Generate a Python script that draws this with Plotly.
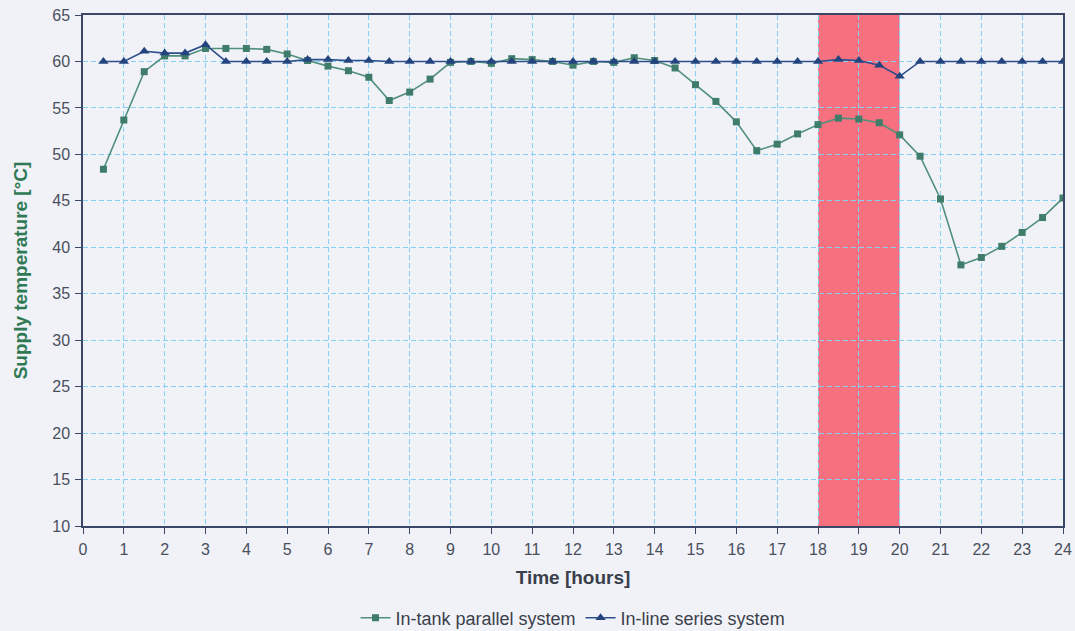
import plotly.graph_objects as go

hours = [0.5, 1, 1.5, 2, 2.5, 3, 3.5, 4, 4.5, 5, 5.5, 6, 6.5, 7, 7.5, 8,
         8.5, 9, 9.5, 10, 10.5, 11, 11.5, 12, 12.5, 13, 13.5, 14, 14.5, 15, 15.5, 16,
         16.5, 17, 17.5, 18, 18.5, 19, 19.5, 20, 20.5, 21, 21.5, 22, 22.5, 23, 23.5, 24]

in_tank_parallel = [48.4, 53.7, 58.9, 60.6, 60.6, 61.4, 61.4, 61.4, 61.3, 60.8, 60.1, 59.5,
                    59.0, 58.3, 55.8, 56.7, 58.1, 59.9, 60.0, 59.8, 60.3, 60.2, 60.0, 59.6,
                    60.0, 59.9, 60.4, 60.1, 59.3, 57.5, 55.7, 53.5, 50.4, 51.1, 52.2, 53.2,
                    53.9, 53.8, 53.4, 52.1, 49.8, 45.2, 38.1, 38.9, 40.1, 41.6, 43.2, 45.3]

in_line_series = [60.0, 60.0, 61.1, 60.9, 60.9, 61.8, 60.0, 60.0, 60.0, 60.0, 60.2, 60.2,
                  60.1, 60.1, 60.0, 60.0, 60.0, 60.0, 60.0, 60.0, 60.0, 60.0, 60.0, 60.0,
                  60.0, 60.0, 60.0, 60.0, 60.0, 60.0, 60.0, 60.0, 60.0, 60.0, 60.0, 60.0,
                  60.2, 60.1, 59.6, 58.4, 60.0, 60.0, 60.0, 60.0, 60.0, 60.0, 60.0, 60.0]

peak_period = [18, 20]
x_ticks = list(range(0, 25))
y_ticks = list(range(10, 66, 5))

FONT = "Liberation Sans, Arial"

fig = go.Figure()
fig.add_trace(go.Scatter(
    x=hours, y=in_tank_parallel, name="In-tank parallel system",
    mode="lines+markers",
    line=dict(color="#4F8F7C", width=1.6),
    marker=dict(symbol="square", size=7, color="#3F7C6A"),
))
fig.add_trace(go.Scatter(
    x=hours, y=in_line_series, name="In-line series system",
    mode="lines+markers",
    line=dict(color="#2C4E8A", width=1.6),
    marker=dict(symbol="triangle-up", size=9, color="#24447E"),
))

fig.add_shape(type="rect", xref="x", yref="paper",
              x0=peak_period[0], x1=peak_period[1], y0=0, y1=1,
              fillcolor="#F7707F", line=dict(width=0), layer="below")

axis_common = dict(
    showline=True, linecolor="#3A4766", linewidth=1.5, mirror=True,
    showgrid=True, gridcolor="#86D0F5", griddash="5px,3px", gridwidth=1,
    ticks="outside", tickcolor="#3A4766", ticklen=6, ticklabelstandoff=2,
    tickfont=dict(family=FONT, size=16, color="#4A4F5C"),
    zeroline=False, automargin=False,
)

fig.update_xaxes(
    range=[0, 24], tickvals=x_ticks,
    title=dict(text="<b>Time [hours]</b>", standoff=14,
               font=dict(family=FONT, size=19, color="#3A3F4A")),
    **axis_common,
)
fig.update_yaxes(
    range=[10, 65], tickvals=y_ticks,
    title=dict(text="<b>Supply temperature [°C]</b>", standoff=20,
               font=dict(family=FONT, size=19, color="#2F7A55")),
    **axis_common,
)

fig.update_layout(
    width=1075, height=631,
    margin=dict(l=83, r=12, t=15, b=105, autoexpand=False),
    paper_bgcolor="#F1F2F8",
    plot_bgcolor="#F1F2F8",
    showlegend=True,
    legend=dict(orientation="h", x=0.5, xanchor="center", y=-0.18, yanchor="middle",
                font=dict(family=FONT, size=18, color="#3A3F4A"),
                bgcolor="rgba(0,0,0,0)", itemwidth=30),
    font=dict(family=FONT),
)

fig.write_html(
    "out.html",
    config={"displayModeBar": False},
    post_script="document.body.style.margin='0';document.body.style.overflow='hidden';",
)
